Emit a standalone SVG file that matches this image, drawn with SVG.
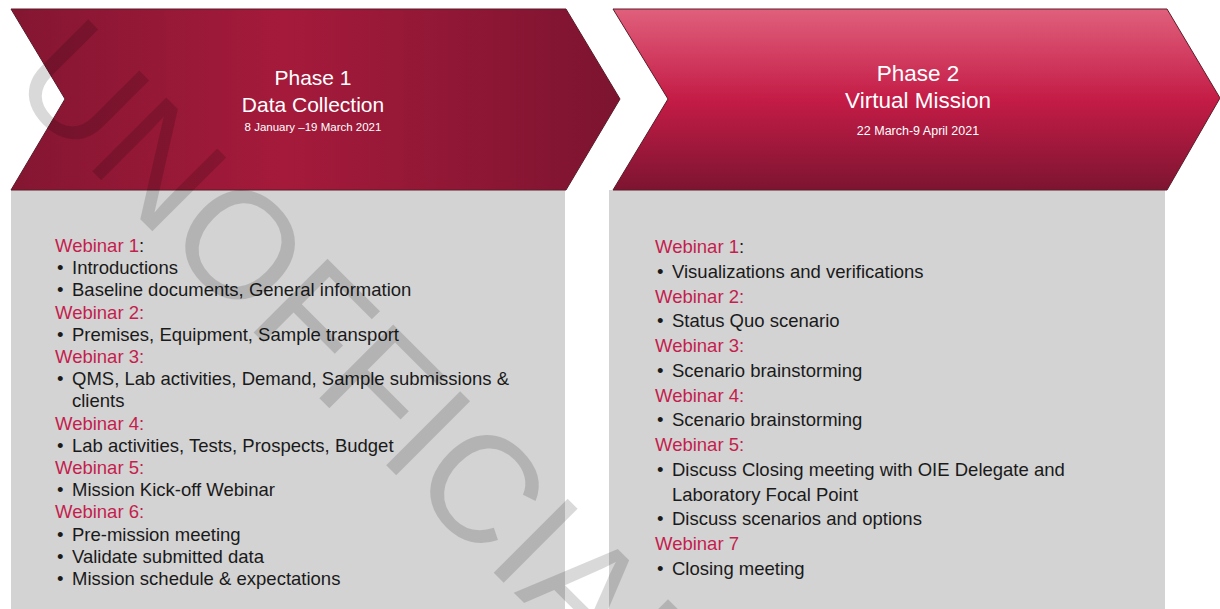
<svg xmlns="http://www.w3.org/2000/svg" width="1220" height="609" viewBox="0 0 1220 609">
<defs>
<linearGradient id="g1" x1="0" y1="0" x2="1" y2="0">
<stop offset="0" stop-color="#841632"/>
<stop offset="0.45" stop-color="#a51a3b"/>
<stop offset="1" stop-color="#7c1430"/>
</linearGradient>
<linearGradient id="g2" x1="0" y1="0" x2="0" y2="1">
<stop offset="0" stop-color="#e0607c"/>
<stop offset="0.5" stop-color="#c41c46"/>
<stop offset="1" stop-color="#7d1431"/>
</linearGradient>
<style>
.body{fill:#d3d3d3}
.hdr{stroke:#5e1a28;stroke-width:1}
.t{font-family:"Liberation Sans",Arial,sans-serif;fill:#1a1a1a;font-size:18.5px}
.w{font-family:"Liberation Sans",Arial,sans-serif;fill:#c41e4e;font-size:18.5px}
.h{font-family:"Liberation Sans",Arial,sans-serif;fill:#ffffff;text-anchor:middle}
.wm{font-family:"Liberation Sans",Arial,sans-serif;font-size:152px;fill:#000000;fill-opacity:0.15}
</style>
</defs>
<rect width="1220" height="609" fill="#ffffff"/>
<g id="phase1">
<rect class="body" x="11" y="190" width="554" height="419"/>
<polygon class="hdr" fill="url(#g1)" points="11,9 566,9 620,99 566,190 11,190 65,99"/>
<text class="h" x="313" y="85" font-size="21">Phase 1</text>
<text class="h" x="313" y="112" font-size="21">Data Collection</text>
<text class="h" x="313" y="131" font-size="11.5">8 January –19 March 2021</text>
<text class="w" x="55" y="252">Webinar 1<tspan fill="#1a1a1a">:</tspan></text>
<text class="t" x="57" y="274.2">•</text><text class="t" x="72" y="274.2">Introductions</text>
<text class="t" x="57" y="296.4">•</text><text class="t" x="72" y="296.4">Baseline documents, General information</text>
<text class="w" x="55" y="318.6">Webinar 2:</text>
<text class="t" x="57" y="340.8">•</text><text class="t" x="72" y="340.8">Premises, Equipment, Sample transport</text>
<text class="w" x="55" y="363">Webinar 3:</text>
<text class="t" x="57" y="385.2">•</text><text class="t" x="72" y="385.2">QMS, Lab activities, Demand, Sample submissions &amp;</text>
<text class="t" x="72" y="407.4">clients</text>
<text class="w" x="55" y="429.6">Webinar 4:</text>
<text class="t" x="57" y="451.8">•</text><text class="t" x="72" y="451.8">Lab activities, Tests, Prospects, Budget</text>
<text class="w" x="55" y="474">Webinar 5:</text>
<text class="t" x="57" y="496.2">•</text><text class="t" x="72" y="496.2">Mission Kick-off Webinar</text>
<text class="w" x="55" y="518.4">Webinar 6:</text>
<text class="t" x="57" y="540.6">•</text><text class="t" x="72" y="540.6">Pre-mission meeting</text>
<text class="t" x="57" y="562.8">•</text><text class="t" x="72" y="562.8">Validate submitted data</text>
<text class="t" x="57" y="585">•</text><text class="t" x="72" y="585">Mission schedule &amp; expectations</text>
</g>
<g id="phase2">
<rect class="body" x="609" y="190" width="556" height="419"/>
<polygon class="hdr" fill="url(#g2)" points="613,9 1167,9 1220,98 1167,190 613,190 668,99"/>
<text class="h" x="918" y="81" font-size="22.5">Phase 2</text>
<text class="h" x="918" y="108" font-size="22.5">Virtual Mission</text>
<text class="h" x="918" y="135" font-size="12.5">22  March-9 April 2021</text>
<text class="w" x="655" y="253">Webinar 1<tspan fill="#1a1a1a">:</tspan></text>
<text class="t" x="657" y="277.75">•</text><text class="t" x="672" y="277.75">Visualizations and verifications</text>
<text class="w" x="655" y="302.5">Webinar 2:</text>
<text class="t" x="657" y="327.25">•</text><text class="t" x="672" y="327.25">Status Quo scenario</text>
<text class="w" x="655" y="352">Webinar 3:</text>
<text class="t" x="657" y="376.75">•</text><text class="t" x="672" y="376.75">Scenario brainstorming</text>
<text class="w" x="655" y="401.5">Webinar 4:</text>
<text class="t" x="657" y="426.25">•</text><text class="t" x="672" y="426.25">Scenario brainstorming</text>
<text class="w" x="655" y="451">Webinar 5:</text>
<text class="t" x="657" y="475.75">•</text><text class="t" x="672" y="475.75">Discuss Closing meeting with OIE Delegate and</text>
<text class="t" x="672" y="500.5">Laboratory Focal Point</text>
<text class="t" x="657" y="525.25">•</text><text class="t" x="672" y="525.25">Discuss scenarios and options</text>
<text class="w" x="655" y="550">Webinar 7</text>
<text class="t" x="657" y="574.75">•</text><text class="t" x="672" y="574.75">Closing meeting</text>
</g>
<g id="connectors"></g>
<text class="wm" transform="translate(6,85) rotate(45)">UNOFFICIAL</text>
</svg>
